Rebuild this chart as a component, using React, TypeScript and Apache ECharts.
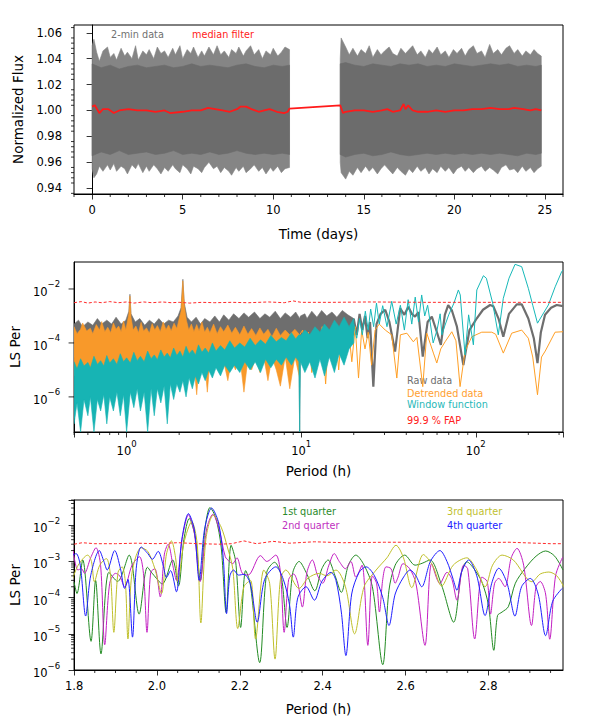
import React, { useEffect, useRef } from 'react';
import * as echarts from 'echarts';

// ================= Panel 1: light curve =================
// [time (d), lower, upper] envelope of the 2-min data (spikes)
const lcOuterSeg1: number[][] = [
  [0.0, 0.955, 1.05], [0.1, 0.948, 1.055], [0.25, 0.951, 1.045], [0.4, 0.957, 1.038], [0.6, 0.953, 1.046],
  [0.85, 0.958, 1.049], [1.0, 0.954, 1.041], [1.2, 0.959, 1.044], [1.35, 0.953, 1.039], [1.6, 0.957, 1.048],
  [1.8, 0.955, 1.042], [1.95, 0.951, 1.045], [2.2, 0.958, 1.04], [2.4, 0.955, 1.05], [2.55, 0.959, 1.039],
  [2.8, 0.952, 1.046], [3.0, 0.957, 1.043], [3.15, 0.953, 1.047], [3.4, 0.958, 1.04], [3.6, 0.955, 1.049],
  [3.8, 0.951, 1.044], [4.0, 0.956, 1.046], [4.2, 0.953, 1.041], [4.45, 0.958, 1.048], [4.6, 0.955, 1.043],
  [4.85, 0.952, 1.05], [5.0, 0.958, 1.04], [5.25, 0.955, 1.047], [5.45, 0.951, 1.044], [5.6, 0.957, 1.049],
  [5.85, 0.955, 1.041], [6.05, 0.952, 1.046], [6.2, 0.956, 1.042], [6.45, 0.96, 1.049], [6.7, 0.955, 1.043],
  [6.9, 0.957, 1.05], [7.1, 0.952, 1.043], [7.3, 0.956, 1.046], [7.55, 0.953, 1.041], [7.7, 0.95, 1.047],
  [7.95, 0.956, 1.044], [8.1, 0.953, 1.049], [8.35, 0.957, 1.042], [8.5, 0.952, 1.046], [8.75, 0.955, 1.05],
  [8.95, 0.958, 1.043], [9.2, 0.953, 1.047], [9.4, 0.956, 1.04], [9.6, 0.951, 1.046], [9.85, 0.956, 1.043],
  [10.0, 0.953, 1.048], [10.25, 0.957, 1.042], [10.45, 0.952, 1.045], [10.65, 0.955, 1.049], [10.9, 0.956, 1.047],
];
const lcOuterSeg2: number[][] = [
  [13.7, 0.96, 1.04], [13.75, 0.952, 1.056], [14.0, 0.947, 1.049], [14.2, 0.953, 1.043], [14.4, 0.95, 1.048],
  [14.65, 0.956, 1.042], [14.85, 0.952, 1.047], [15.1, 0.957, 1.044], [15.3, 0.953, 1.05], [15.5, 0.956, 1.041],
  [15.75, 0.951, 1.047], [15.95, 0.955, 1.043], [16.15, 0.958, 1.046], [16.4, 0.954, 1.049], [16.6, 0.951, 1.044],
  [16.85, 0.956, 1.042], [17.05, 0.953, 1.048], [17.3, 0.95, 1.044], [17.5, 0.955, 1.047], [17.7, 0.952, 1.05],
  [17.95, 0.957, 1.043], [18.15, 0.953, 1.046], [18.4, 0.956, 1.041], [18.6, 0.951, 1.047], [18.8, 0.955, 1.044],
  [19.05, 0.952, 1.049], [19.25, 0.957, 1.043], [19.5, 0.953, 1.046], [19.7, 0.956, 1.041], [19.95, 0.951, 1.047],
  [20.15, 0.955, 1.044], [20.4, 0.957, 1.048], [20.6, 0.953, 1.042], [20.8, 0.956, 1.047], [21.05, 0.952, 1.05],
  [21.25, 0.955, 1.044], [21.5, 0.957, 1.046], [21.7, 0.953, 1.041], [21.95, 0.956, 1.051], [22.15, 0.954, 1.044],
  [22.4, 0.951, 1.047], [22.6, 0.956, 1.043], [22.85, 0.958, 1.048], [23.05, 0.954, 1.05], [23.3, 0.955, 1.044],
  [23.5, 0.952, 1.047], [23.75, 0.957, 1.042], [23.95, 0.953, 1.046], [24.2, 0.956, 1.043], [24.4, 0.952, 1.047],
  [24.6, 0.955, 1.044], [24.8, 0.957, 1.042],
];
// dense core of the 2-min data
const lcCoreSeg1: number[][] = [
  [0.0, 0.965, 1.036], [0.5, 0.968, 1.033], [1.0, 0.966, 1.035], [1.5, 0.969, 1.032], [2.0, 0.966, 1.034],
  [2.5, 0.967, 1.035], [3.0, 0.968, 1.033], [3.5, 0.966, 1.034], [4.0, 0.967, 1.035], [4.5, 0.969, 1.033],
  [5.0, 0.966, 1.034], [5.5, 0.967, 1.036], [6.0, 0.966, 1.034], [6.5, 0.968, 1.035], [7.0, 0.966, 1.034],
  [7.5, 0.967, 1.033], [8.0, 0.969, 1.035], [8.5, 0.967, 1.036], [9.0, 0.966, 1.034], [9.5, 0.967, 1.033],
  [10.0, 0.966, 1.035], [10.5, 0.967, 1.034], [10.9, 0.966, 1.035],
];
const lcCoreSeg2: number[][] = [
  [13.7, 0.966, 1.036], [14.0, 0.964, 1.037], [14.5, 0.966, 1.035], [15.0, 0.967, 1.034], [15.5, 0.965, 1.036],
  [16.0, 0.966, 1.035], [16.5, 0.968, 1.034], [17.0, 0.966, 1.036], [17.5, 0.965, 1.035], [18.0, 0.966, 1.036],
  [18.5, 0.967, 1.034], [19.0, 0.966, 1.035], [19.5, 0.967, 1.034], [20.0, 0.966, 1.036], [20.5, 0.967, 1.035],
  [21.0, 0.966, 1.034], [21.5, 0.967, 1.035], [22.0, 0.966, 1.036], [22.5, 0.967, 1.035], [23.0, 0.966, 1.036],
  [23.5, 0.965, 1.034], [24.0, 0.967, 1.035], [24.5, 0.966, 1.034], [24.8, 0.967, 1.035],
];
const medianFilter: number[][] = [
  [0.0, 1.003], [0.15, 1.004], [0.4, 0.998], [0.6, 1.001], [0.9, 1.001], [1.2, 0.998], [1.5, 1.0], [2.0, 1.001],
  [2.5, 1.0], [3.0, 1.0], [3.5, 0.999], [4.0, 1.0], [4.3, 0.998], [5.0, 0.999], [5.5, 1.0], [6.0, 1.0],
  [6.4, 1.002], [6.8, 1.001], [7.2, 1.0], [7.6, 0.999], [8.0, 1.001], [8.2, 1.003], [8.5, 1.003], [8.8, 1.001],
  [9.2, 0.999], [9.5, 1.0], [9.8, 1.001], [10.2, 0.999], [10.6, 0.998], [10.8, 0.999], [10.9, 1.0015],
  [13.7, 1.004], [13.85, 0.998], [14.0, 0.999], [14.5, 1.0], [15.0, 1.0], [15.5, 0.999], [16.0, 1.0],
  [16.3, 1.001], [16.6, 0.999], [17.0, 1.0], [17.2, 1.005], [17.3, 1.001], [17.45, 1.004], [17.7, 1.0],
  [18.0, 0.999], [18.5, 0.999], [19.0, 1.0], [19.5, 0.999], [20.0, 1.0], [20.5, 1.0], [21.0, 1.001],
  [21.5, 1.001], [22.0, 1.002], [22.5, 1.001], [23.0, 1.001], [23.3, 1.002], [23.8, 1.001], [24.2, 1.0],
  [24.5, 1.001], [24.8, 1.0],
];
const topXTicks = [0, 5, 10, 15, 20, 25];
const topYTicks = [0.94, 0.96, 0.98, 1.0, 1.02, 1.04, 1.06];

// ================= Panel 2: periodograms vs period =================
// dense parts: [period (h), lower, upper]
const rawBand: number[][] = [
  [0.5, 3e-5, 5e-4], [0.53, 3e-5, 7e-4], [0.56, 3e-5, 4e-4], [0.6, 3e-5, 6e-4], [0.64, 3e-5, 4.5e-4],
  [0.68, 3e-5, 8e-4], [0.72, 3e-5, 5e-4], [0.77, 3e-5, 7e-4], [0.82, 3e-5, 5e-4], [0.87, 3e-5, 9e-4],
  [0.93, 3e-5, 5e-4], [0.99, 3e-5, 7e-4], [1.03, 3e-5, 1.5e-3], [1.045, 3e-5, 6.4e-3], [1.06, 3e-5, 1.2e-3],
  [1.12, 3e-5, 6e-4], [1.19, 3e-5, 8e-4], [1.27, 3e-5, 4.5e-4], [1.35, 3e-5, 7e-4], [1.44, 3e-5, 5e-4],
  [1.53, 3e-5, 8e-4], [1.63, 3e-5, 5e-4], [1.74, 3e-5, 7e-4], [1.85, 3e-5, 6e-4], [1.97, 3e-5, 1e-3],
  [2.05, 3e-5, 2e-3], [2.1, 3e-5, 2.3e-2], [2.14, 3e-5, 3e-3], [2.22, 3e-5, 9e-4], [2.35, 3e-5, 6e-4],
  [2.5, 3e-5, 9e-4], [2.65, 3e-5, 5e-4], [2.8, 3e-5, 8e-4], [3.0, 3e-5, 6e-4], [3.2, 3e-5, 1e-3],
  [3.4, 4e-5, 6e-4], [3.6, 4e-5, 1.1e-3], [3.85, 4e-5, 7e-4], [4.1, 4e-5, 1.2e-3], [4.4, 5e-5, 8e-4],
  [4.7, 5e-5, 1.3e-3], [5.0, 5e-5, 9e-4], [5.4, 6e-5, 1.4e-3], [5.8, 6e-5, 8e-4], [6.2, 6e-5, 1.2e-3],
  [6.6, 7e-5, 9e-4], [7.1, 7e-5, 1.5e-3], [7.6, 8e-5, 8e-4], [8.1, 8e-5, 1.3e-3], [8.7, 9e-5, 9e-4],
  [9.3, 9e-5, 1.4e-3], [9.7, 9e-5, 9e-4], [9.8, 5e-8, 8e-4], [9.9, 1e-4, 1e-3], [10.5, 1e-4, 1.2e-3],
  [10.8, 1e-4, 8e-4], [11.5, 1.2e-4, 1.5e-3], [12.3, 1e-4, 9e-4], [13.1, 1.3e-4, 1.6e-3], [14, 1.1e-4, 1e-3],
  [15, 1.4e-4, 1.4e-3], [16, 1.2e-4, 9e-4], [17.2, 1.5e-4, 1.6e-3], [18.5, 1.2e-4, 1.1e-3], [20, 2e-4, 8e-4],
];
const detBand: number[][] = [
  [0.5, 6e-6, 4e-4], [0.52, 8e-6, 2.2e-4], [0.545, 3e-6, 3.2e-4], [0.56, 9e-6, 5.5e-4], [0.59, 6e-6, 2.8e-4],
  [0.62, 1e-5, 3.5e-4], [0.64, 5e-6, 2.2e-4], [0.67, 1e-5, 4.8e-4], [0.7, 7e-6, 3e-4], [0.72, 1.2e-5, 6.2e-4],
  [0.75, 6e-6, 2.6e-4], [0.78, 1e-5, 3.8e-4], [0.81, 8e-6, 2.4e-4], [0.84, 1e-5, 5.5e-4], [0.87, 8e-6, 3.2e-4],
  [0.9, 1.2e-5, 4.2e-4], [0.93, 5e-6, 2.6e-4], [0.96, 1.3e-5, 6.5e-4], [0.99, 8e-6, 3e-4], [1.03, 8e-6, 1.2e-3],
  [1.045, 1e-5, 5.5e-3], [1.06, 8e-6, 9e-4], [1.09, 1.2e-5, 3e-4], [1.13, 5e-6, 4.2e-4], [1.17, 1.3e-5, 2.4e-4],
  [1.21, 8e-6, 5.8e-4], [1.25, 1.5e-5, 2.8e-4], [1.3, 9e-6, 3.6e-4], [1.35, 1.4e-5, 2.3e-4], [1.4, 4e-6, 5.2e-4],
  [1.45, 1.5e-5, 3e-4], [1.5, 1e-5, 4.4e-4], [1.56, 6e-6, 2.6e-4], [1.62, 1.2e-5, 6e-4], [1.68, 8e-6, 3.1e-4],
  [1.74, 4e-6, 4.6e-4], [1.8, 1.5e-5, 2.8e-4], [1.87, 1e-5, 5.4e-4], [1.94, 1.2e-5, 3.4e-4], [1.99, 1e-5, 7e-4],
  [2.05, 1.2e-5, 1.5e-3], [2.1, 1.5e-5, 2e-2], [2.14, 1e-5, 2.5e-3], [2.2, 6e-6, 7e-4], [2.27, 1.5e-5, 3e-4],
  [2.35, 5e-6, 5e-4], [2.43, 1.6e-5, 2.6e-4], [2.52, 1.2e-6, 4.8e-4], [2.6, 1.5e-5, 2.8e-4], [2.7, 1e-5, 6e-4],
  [2.8, 2e-5, 2.5e-4], [2.9, 1.5e-6, 3.8e-4], [3.0, 2e-5, 2.4e-4], [3.15, 1e-5, 5e-4], [3.3, 2.5e-5, 2.2e-4],
  [3.45, 8e-6, 4e-4], [3.6, 2e-5, 2.6e-4], [3.8, 4e-6, 4.6e-4], [4.0, 2.5e-5, 2.3e-4], [4.2, 1e-5, 3.8e-4],
  [4.45, 3e-5, 2e-4], [4.7, 1.5e-6, 4.2e-4], [4.95, 2.5e-5, 2.1e-4], [5.2, 1e-5, 3.4e-4], [5.5, 3e-5, 1.9e-4],
  [5.8, 8e-6, 3.6e-4], [6.1, 3e-5, 2.1e-4], [6.45, 4e-6, 3.2e-4], [6.8, 3e-5, 1.7e-4], [7.2, 1e-5, 3.5e-4],
  [7.6, 2.5e-6, 1.9e-4], [8.1, 3e-5, 3e-4], [8.6, 2e-6, 2e-4], [9.2, 3e-5, 3.2e-4], [9.8, 5e-6, 2e-4],
];
const winBand: number[][] = [
  [0.5, 1e-7, 2e-5], [0.52, 6e-7, 1.1e-5], [0.545, 5e-8, 2.6e-5], [0.57, 8e-7, 1.4e-5], [0.6, 2e-7, 1.9e-5],
  [0.62, 1e-6, 1.2e-5], [0.65, 5e-8, 3.2e-5], [0.68, 8e-7, 1.6e-5], [0.71, 3e-7, 2.2e-5], [0.74, 1.2e-6, 1.4e-5],
  [0.77, 1e-7, 3.4e-5], [0.8, 1e-6, 1.8e-5], [0.84, 3e-7, 2.6e-5], [0.88, 1.5e-6, 1.6e-5], [0.92, 2e-7, 4e-5],
  [0.96, 1.2e-6, 2e-5], [1.0, 5e-8, 2.8e-5], [1.05, 1.5e-6, 1.8e-5], [1.1, 4e-7, 4.5e-5], [1.15, 2e-6, 2.2e-5],
  [1.2, 3e-7, 3.2e-5], [1.26, 1.5e-6, 2e-5], [1.32, 5e-8, 5e-5], [1.38, 2e-6, 2.6e-5], [1.44, 2e-7, 3.6e-5],
  [1.5, 2e-6, 2.4e-5], [1.57, 6e-7, 5.5e-5], [1.64, 2.5e-6, 3e-5], [1.71, 1e-7, 4.2e-5], [1.78, 3e-6, 2.8e-5],
  [1.86, 8e-7, 6.5e-5], [1.94, 3e-6, 3.4e-5], [2.02, 1.5e-6, 5e-5], [2.1, 4e-6, 3e-5], [2.19, 1e-6, 7.5e-5],
  [2.28, 5e-6, 4e-5], [2.38, 2e-6, 5.5e-5], [2.48, 6e-6, 3.6e-5], [2.58, 3e-6, 8.5e-5], [2.7, 8e-6, 4.5e-5],
  [2.82, 4e-6, 6.5e-5], [2.95, 1e-5, 4.2e-5], [3.1, 5e-6, 1e-4], [3.25, 1.2e-5, 5e-5], [3.45, 6e-6, 8e-5],
  [3.65, 1.5e-5, 5.5e-5], [3.9, 8e-6, 1.2e-4], [4.15, 1.5e-5, 6.5e-5], [4.45, 8e-6, 1e-4], [4.75, 2e-5, 7e-5],
  [5.1, 1e-5, 1.5e-4], [5.45, 2e-5, 8e-5], [5.85, 8e-6, 1.3e-4], [6.25, 2.5e-5, 9e-5], [6.7, 1.2e-5, 1.9e-4],
  [7.2, 2.5e-5, 1.1e-4], [7.7, 1.5e-5, 1.6e-4], [8.2, 3e-5, 1.2e-4], [8.8, 1.5e-5, 2.4e-4], [9.3, 3e-5, 1.4e-4],
  [9.7, 2e-5, 2e-4], [9.8, 5e-8, 2e-4], [9.9, 2e-5, 1.8e-4], [10.5, 8e-6, 3e-4], [11.2, 2e-5, 2e-4],
  [12, 5e-6, 4e-4], [12.8, 2.5e-5, 2.5e-4], [13.6, 6e-6, 5e-4], [14.5, 3e-5, 3e-4], [15.5, 8e-6, 7e-4],
  [16.5, 4e-5, 4e-4], [17.6, 1.5e-5, 9e-4], [18.8, 6e-5, 4e-4], [20, 1e-4, 8e-4],
];
// resolved parts: [period (h), power]
const rawLine: number[][] = [
  [20, 8e-4], [20.8, 2e-4], [21.6, 1.2e-3], [22.4, 3e-4], [23.2, 1e-3], [24, 1.5e-4], [24.8, 6e-4], [25.9, 2.4e-6],
  [27, 5e-4], [28.5, 1.2e-3], [30.3, 1.7e-3], [32, 6e-4], [34.5, 4.8e-5], [36.9, 1.9e-3], [39, 1.1e-3],
  [41.1, 2.2e-3], [43, 1.2e-3], [44.9, 9.4e-4], [46.9, 1.4e-3], [49.7, 3.1e-5], [53, 6e-4], [56, 9.4e-4],
  [59.8, 2.6e-4], [63.1, 8.5e-5], [66.5, 1.1e-3], [69.5, 2.5e-3], [73, 1.6e-3], [78, 4e-4], [84.9, 1.5e-5],
  [92, 3e-4], [101.4, 8.2e-4], [110, 1.7e-3], [120.8, 2.55e-3], [126, 2.3e-3], [135, 8e-4], [143.8, 1.7e-4],
  [155, 1.2e-3], [171.7, 2.7e-3], [183.3, 2.7e-3], [200, 8e-4], [215, 1.5e-4], [225.7, 1.8e-5], [236, 2.5e-4],
  [249.3, 1.1e-3], [270, 2e-3], [291, 2.55e-3], [316, 2.3e-3],
];
const detLine: number[][] = [
  [9.8, 2e-4], [10.2, 3e-4], [10.6, 2e-5], [11, 2.5e-4], [11.5, 8e-6], [12, 3e-4], [12.6, 5e-5], [13.2, 4e-4],
  [13.8, 3e-6], [14.4, 2.5e-4], [15, 6e-5], [15.7, 3.5e-4], [16.4, 1e-5], [17.1, 4e-4], [17.9, 8e-5],
  [18.7, 3e-4], [19.5, 2e-5], [20.4, 4e-4], [21.3, 5e-6], [22.2, 3e-4], [23.2, 6e-5], [24.2, 2.5e-4],
  [25.3, 1.5e-5], [26.5, 3e-4], [28, 5e-4], [30.3, 3e-4], [33, 2e-4], [35.3, 5e-6], [37, 2e-4], [40.3, 2.3e-4],
  [43.9, 1.1e-4], [46, 1.6e-4], [49.7, 2.4e-6], [52.4, 2.3e-4], [57.2, 4.2e-5], [59.8, 1.8e-5], [63, 6e-5],
  [66.7, 1.1e-4], [72.9, 2.6e-4], [77, 1.2e-4], [81.3, 2.4e-6], [86.8, 5e-5], [94.9, 1.7e-4], [108.2, 2.5e-4],
  [123.5, 2.5e-4], [130, 2.1e-4], [143.8, 4.2e-5], [160.7, 2.3e-4], [183.3, 3e-4], [200, 1.5e-4], [212, 3e-5],
  [225.7, 1.2e-6], [238, 3e-5], [250, 5e-5], [284.6, 2.5e-4], [316, 2.6e-4],
];
const winLine: number[][] = [
  [20, 5e-4], [20.8, 1.5e-4], [21.6, 8e-4], [22.4, 2e-4], [23.3, 1.5e-3], [24.2, 3e-4], [25, 1.8e-3],
  [26, 4e-4], [27, 3e-3], [28, 5e-4], [29.3, 2.4e-3], [31, 4e-4], [33, 3.5e-3], [35, 5e-4], [37, 2.5e-3],
  [39, 3e-4], [41, 4e-3], [43, 5e-4], [45, 5e-3], [47, 6e-4], [49, 6e-3], [51, 1e-3], [53, 2.5e-3], [55, 5e-4],
  [57, 1e-4], [60, 3e-4], [62.5, 1.2e-3], [64, 2e-4], [66.7, 4.6e-4], [70, 1.1e-3], [75, 3e-3], [79.5, 9.2e-3],
  [81.5, 6e-3], [86.8, 3.6e-5], [91, 1.1e-3], [96.9, 8.5e-5], [101.4, 9.2e-3], [110.6, 0.031], [115, 0.025],
  [125, 3e-3], [134.6, 2e-4], [143.8, 4.5e-3], [155, 0.025], [167.9, 0.082], [183.3, 0.067], [200, 0.0106],
  [212, 2.5e-3], [225.7, 5.4e-4], [260.5, 2.55e-3], [285, 0.012], [310.7, 0.044], [316, 0.05],
];
const fapMid: number[][] = [
  [0.5, 3.1e-3], [0.55, 3.4e-3], [0.6, 3e-3], [0.66, 3.3e-3], [0.72, 3.1e-3], [0.8, 3.4e-3], [0.9, 3.1e-3],
  [1.0, 3.3e-3], [1.1, 3e-3], [1.25, 3.3e-3], [1.4, 3.1e-3], [1.6, 3.3e-3], [1.8, 3.1e-3], [2.0, 3.2e-3],
  [2.3, 3e-3], [2.7, 3.2e-3], [3.2, 3.1e-3], [4, 3.2e-3], [5, 3.1e-3], [6.5, 3.3e-3], [8, 3.1e-3], [9, 3.6e-3],
  [10, 3.2e-3], [15, 3.2e-3], [25, 3.3e-3], [50, 3.2e-3], [100, 3.2e-3], [316, 3.2e-3],
];
// tick values with their exponent text (shown as 10^exp)
const midXTicks: [number, string][] = [[1, '0'], [10, '1'], [100, '2']];
const midYTicks: [number, string][] = [[1e-6, '−6'], [1e-4, '−4'], [1e-2, '−2']];

// ================= Panel 3: quarters around the 2.1 h peak =================
const q1: number[][] = [
  [1.8, 2.7e-4], [1.807, 1.3e-4], [1.821, 1.1e-3], [1.841, 6.2e-6], [1.852, 3e-4], [1.865, 2.8e-6], [1.884, 5e-4],
  [1.905, 2.8e-4], [1.933, 1.5e-3], [1.957, 3.5e-5], [1.977, 6.9e-4], [1.99, 4.5e-4], [2.013, 2.4e-4],
  [2.038, 1.1e-3], [2.052, 2.1e-4], [2.065, 4e-3], [2.078, 1.55e-2], [2.092, 5e-3], [2.105, 3e-4], [2.116, 7.9e-3],
  [2.128, 3.1e-2], [2.142, 1.6e-2], [2.155, 2.5e-3], [2.167, 3.9e-5], [2.179, 2.8e-3], [2.19, 1e-3], [2.202, 1.5e-5],
  [2.214, 5.6e-4], [2.225, 2.5e-4], [2.248, 1.6e-6], [2.265, 5e-4], [2.284, 9.5e-4], [2.3, 4e-4], [2.314, 1.5e-5],
  [2.328, 5e-4], [2.343, 1e-3], [2.36, 5e-4], [2.381, 1.55e-4], [2.398, 6.3e-4], [2.413, 1.1e-3], [2.43, 4e-4],
  [2.445, 1.4e-4], [2.462, 7.9e-4], [2.48, 1.5e-3], [2.5, 7.9e-4], [2.52, 2e-4], [2.545, 1.4e-6], [2.56, 1.6e-4],
  [2.575, 7.9e-4], [2.598, 1.5e-3], [2.623, 7.9e-4], [2.64, 8.9e-4], [2.659, 1.1e-3], [2.687, 2.2e-4],
  [2.716, 2.1e-5], [2.735, 5e-4], [2.748, 9.8e-4], [2.765, 6.3e-4], [2.784, 2.75e-4], [2.8, 6.3e-5],
  [2.813, 3.5e-6], [2.822, 3.2e-5], [2.833, 4e-5], [2.848, 5.6e-5], [2.865, 2.5e-4], [2.889, 6.5e-4],
  [2.915, 1.4e-3], [2.938, 1.95e-3], [2.96, 1.4e-3], [2.98, 5.8e-4],
];
const q2: number[][] = [
  [1.797, 2.3e-3], [1.809, 5.8e-4], [1.818, 6.3e-4], [1.825, 4.7e-4], [1.84, 1.26e-3], [1.853, 2.4e-3],
  [1.864, 7.9e-4], [1.874, 5e-6], [1.886, 2.5e-4], [1.9, 4.7e-4], [1.91, 4e-4], [1.922, 2e-4], [1.94, 7.9e-4],
  [1.958, 1.35e-3], [1.968, 4e-4], [1.976, 1.1e-5], [1.985, 5e-4], [1.995, 6.3e-4], [2.008, 1.05e-4],
  [2.018, 1.6e-3], [2.027, 3e-3], [2.04, 6.3e-4], [2.047, 3e-4], [2.062, 5e-3], [2.076, 1.95e-2], [2.09, 6.3e-3],
  [2.104, 2.75e-4], [2.12, 7.9e-3], [2.135, 2e-2], [2.15, 7.9e-3], [2.165, 1.35e-3], [2.175, 1e-3], [2.183, 8.7e-4],
  [2.193, 1.26e-3], [2.206, 4.7e-4], [2.22, 4.2e-4], [2.25, 1.45e-3], [2.265, 1e-3], [2.287, 1.5e-3], [2.298, 5e-4],
  [2.307, 1.1e-5], [2.318, 3.2e-4], [2.33, 4.5e-4], [2.34, 2.5e-4], [2.351, 5.5e-5], [2.362, 5e-4], [2.375, 1.1e-3],
  [2.388, 4e-4], [2.4, 2.5e-4], [2.415, 7.9e-4], [2.428, 1.65e-3], [2.44, 1e-3], [2.455, 6.3e-4], [2.468, 1e-3],
  [2.48, 3.7e-4], [2.495, 7.9e-4], [2.509, 4.8e-6], [2.52, 4e-4], [2.53, 2.5e-4], [2.537, 4e-5], [2.545, 3.2e-4],
  [2.553, 7.1e-4], [2.565, 6.3e-4], [2.575, 2.5e-4], [2.582, 3.7e-4], [2.594, 8.7e-4], [2.61, 6.3e-4],
  [2.625, 2.5e-4], [2.647, 4.8e-6], [2.663, 8.7e-4], [2.683, 2.45e-4], [2.7, 5e-4], [2.712, 3.2e-4],
  [2.724, 8.5e-5], [2.74, 7.9e-4], [2.75, 6.3e-4], [2.767, 7.2e-6], [2.784, 3.7e-4], [2.797, 2.8e-4],
  [2.805, 3.5e-5], [2.815, 2.5e-4], [2.825, 3.4e-4], [2.84, 2e-4], [2.855, 1.26e-3], [2.869, 2.3e-3],
  [2.885, 7.9e-4], [2.904, 1.7e-5], [2.915, 2e-4], [2.925, 2.8e-4], [2.938, 1.26e-4], [2.948, 7.1e-6],
  [2.962, 4e-4], [2.979, 1.3e-3],
];
const q3: number[][] = [
  [1.797, 3.4e-4], [1.81, 7.9e-4], [1.833, 1.5e-3], [1.842, 1e-3], [1.849, 2.75e-4], [1.862, 7.9e-4],
  [1.878, 1.2e-3], [1.888, 4e-4], [1.896, 1.1e-5], [1.906, 5e-4], [1.916, 7.1e-4], [1.924, 2.5e-4], [1.93, 7.2e-6],
  [1.94, 5e-4], [1.962, 2.4e-3], [1.978, 1.9e-3], [1.995, 6.3e-4], [2.011, 1.3e-4], [2.023, 1.6e-3],
  [2.035, 3.7e-3], [2.045, 1.26e-3], [2.051, 2.75e-4], [2.065, 3.2e-3], [2.084, 1.26e-2], [2.097, 3.2e-3],
  [2.106, 2e-5], [2.118, 4e-3], [2.136, 1.9e-2], [2.155, 8.9e-3], [2.17, 2.5e-3], [2.183, 6.3e-4], [2.195, 1.4e-5],
  [2.21, 2e-4], [2.226, 3e-4], [2.238, 7.2e-6], [2.258, 5.8e-4], [2.272, 2.5e-4], [2.285, 2e-6], [2.298, 3.2e-4],
  [2.311, 5.8e-4], [2.343, 1.8e-4], [2.365, 3.5e-4], [2.392, 4.7e-4], [2.41, 4e-4], [2.432, 5.8e-4], [2.455, 2e-4],
  [2.477, 1e-5], [2.5, 2e-4], [2.529, 5.8e-4], [2.555, 1.26e-3], [2.577, 2.8e-3], [2.595, 1.26e-3], [2.615, 1.9e-4],
  [2.643, 1.55e-3], [2.665, 7.9e-4], [2.687, 2.1e-4], [2.715, 7.9e-4], [2.748, 1.26e-3], [2.77, 6.3e-4],
  [2.792, 2e-4], [2.81, 7.9e-4], [2.833, 1.5e-3], [2.86, 1.1e-3], [2.905, 2.75e-4], [2.925, 4.5e-4],
  [2.946, 5.1e-4], [2.965, 4e-4], [2.982, 2e-4],
];
const q4: number[][] = [
  [1.797, 1.5e-3], [1.805, 1.65e-3], [1.815, 7.9e-4], [1.828, 3.1e-5], [1.84, 4e-4], [1.861, 2e-3], [1.872, 1e-3],
  [1.88, 5.8e-4], [1.898, 2e-3], [1.912, 6.3e-4], [1.922, 1.8e-4], [1.93, 3.2e-4], [1.941, 8.1e-6], [1.95, 6.3e-4],
  [1.962, 2.5e-3], [1.978, 1.65e-3], [1.989, 1.15e-3], [2.003, 1.9e-3], [2.015, 7.9e-4], [2.023, 3.6e-4],
  [2.033, 5.6e-4], [2.047, 1.45e-4], [2.06, 4e-3], [2.076, 2.1e-2], [2.09, 7.9e-3], [2.102, 3e-4], [2.115, 7.9e-3],
  [2.132, 3e-2], [2.148, 1.26e-2], [2.16, 1.26e-3], [2.168, 3.6e-5], [2.176, 4e-4], [2.185, 5.8e-4],
  [2.197, 4.2e-4], [2.21, 4.4e-4], [2.225, 2.5e-4], [2.242, 2.1e-5], [2.26, 3.2e-4], [2.287, 7.1e-4],
  [2.305, 3.2e-4], [2.32, 6.3e-5], [2.329, 8.1e-6], [2.34, 1e-4], [2.36, 2e-4], [2.38, 8.5e-5], [2.398, 2.8e-4],
  [2.42, 5e-4], [2.432, 3e-4], [2.445, 4e-5], [2.456, 2.5e-6], [2.47, 1.26e-4], [2.488, 5e-4], [2.505, 7.1e-4],
  [2.525, 4e-4], [2.545, 1e-4], [2.56, 1.7e-5], [2.575, 1.26e-4], [2.594, 3.5e-4], [2.611, 5.8e-4],
  [2.625, 4e-4], [2.639, 2e-4], [2.66, 1e-3], [2.683, 2e-3], [2.7, 1e-3], [2.715, 3.2e-4], [2.724, 1.6e-4],
  [2.735, 5e-4], [2.752, 1.1e-3], [2.772, 4e-4], [2.792, 3.2e-5], [2.808, 2.5e-4], [2.825, 6.5e-4],
  [2.845, 2.5e-4], [2.864, 3.1e-5], [2.88, 2e-4], [2.901, 3.4e-4], [2.92, 1.26e-4], [2.938, 8.9e-6],
  [2.955, 7.9e-5], [2.978, 1.8e-4],
];
const fapBot: number[][] = [
  [1.8, 3e-3], [1.82, 3.3e-3], [1.85, 3.1e-3], [1.9, 3.1e-3], [1.95, 3.2e-3], [2.0, 3.1e-3], [2.05, 3.3e-3],
  [2.1, 3.1e-3], [2.15, 3e-3], [2.18, 3.1e-3], [2.21, 3.7e-3], [2.24, 3.1e-3], [2.28, 3.6e-3], [2.32, 3.2e-3],
  [2.38, 3.5e-3], [2.45, 3.3e-3], [2.55, 3.4e-3], [2.65, 3.4e-3], [2.75, 3.3e-3], [2.85, 3.4e-3], [2.95, 3.1e-3],
  [2.98, 3.1e-3],
];
const botXTicks = [1.8, 2.0, 2.2, 2.4, 2.6, 2.8];
const botYTicks: [number, string][] = [[1e-6, '−6'], [1e-5, '−5'], [1e-4, '−4'], [1e-3, '−3'], [1e-2, '−2']];

const FONT = 'DejaVu Sans';

function logMatch(v: number, ticks: [number, string][]) {
  const t = ticks.find((tt) => Math.abs(Math.log10(v) - Math.log10(tt[0])) < 1e-6);
  return t ? `{b|10}{s|${t[1]}}` : '';
}
function linMatch(v: number, ticks: number[], digits: number) {
  const t = ticks.find((tt) => Math.abs(tt - v) < 1e-6);
  return t === undefined ? '' : t.toFixed(digits);
}

function bandSeries(band: number[][], color: string, idx: number, z: number) {
  return {
    type: 'custom', xAxisIndex: idx, yAxisIndex: idx, z, silent: true, clip: true,
    data: [[band[0][0], band[0][2]]],
    renderItem: (_p: any, api: any) => {
      const upper = band.map((d) => api.coord([d[0], d[2]]));
      const lower = band.slice().reverse().map((d) => api.coord([d[0], d[1]]));
      return { type: 'polygon', shape: { points: upper.concat(lower) }, style: { fill: color, stroke: color, lineWidth: 0.6 } };
    },
  };
}

function lineSeries(data: number[][], color: string, idx: number, width: number, z: number, extra: any = {}) {
  return {
    type: 'line', xAxisIndex: idx, yAxisIndex: idx, data, showSymbol: false, symbol: 'none', z, silent: true,
    lineStyle: { color, width, ...(extra.lineStyle || {}) }, smooth: extra.smooth || false,
  };
}

function tickSeries(values: number[], dir: 'x' | 'y', ref: number, idx: number, len: number) {
  return {
    type: 'custom', xAxisIndex: idx, yAxisIndex: idx, silent: true, clip: false, z: 20,
    data: values.map((v) => (dir === 'x' ? [v, ref] : [ref, v])),
    renderItem: (params: any, api: any) => {
      const cs = params.coordSys;
      const p = api.coord([api.value(0), api.value(1)]);
      if (dir === 'x') {
        if (p[0] < cs.x - 0.5 || p[0] > cs.x + cs.width + 0.5) return null;
        const y0 = cs.y + cs.height;
        return { type: 'line', shape: { x1: p[0], y1: y0, x2: p[0], y2: y0 + len }, style: { stroke: '#000', lineWidth: 0.8 } };
      }
      if (p[1] < cs.y - 0.5 || p[1] > cs.y + cs.height + 0.5) return null;
      return { type: 'line', shape: { x1: cs.x - len, y1: p[1], x2: cs.x, y2: p[1] }, style: { stroke: '#000', lineWidth: 0.8 } };
    },
  };
}

export default function App() {
  const ref = useRef<HTMLDivElement>(null);
  useEffect(() => {
    document.body.style.margin = '0';
    const chart = echarts.init(ref.current!, null, { renderer: 'svg' });

    const topXMinor: number[] = [];
    for (let i = -1; i <= 26; i++) if (i % 5 !== 0) topXMinor.push(i);
    const topYMinor: number[] = [];
    for (let k = 234; k <= 266; k++) if (k % 5 !== 0) topYMinor.push(+(k * 0.004).toFixed(3));
    const midXMinor: number[] = [];
    for (let e = -1; e <= 2; e++) for (let m = 2; m <= 9; m++) { const v = m * Math.pow(10, e); if (v >= 0.5 && v <= 316) midXMinor.push(v); }
    const botYMinor: number[] = [];
    for (let e = -6; e <= -2; e++) for (let m = 2; m <= 9; m++) { const v = m * Math.pow(10, e); if (v <= 0.05) botYMinor.push(v); }
    const botXMinor: number[] = [];
    for (let k = 36; k <= 59; k++) if (k % 4 !== 0) botXMinor.push(+(k * 0.05).toFixed(2));

    const axisCommon = {
      axisLine: { show: true, lineStyle: { color: '#000', width: 1 } },
      splitLine: { show: false },
      nameLocation: 'middle',
      nameTextStyle: { fontSize: 13.5, color: '#000', fontFamily: FONT },
    };
    const lab = (extra: any) => ({ color: '#000', fontSize: 11.5, fontFamily: FONT, ...extra });
    const supRich = {
      b: { fontSize: 11.5, fontFamily: FONT, color: '#000', lineHeight: 18, verticalAlign: 'bottom' },
      s: { fontSize: 8.5, fontFamily: FONT, color: '#000', lineHeight: 12, verticalAlign: 'top' },
    };
    const tick = { show: true, length: 5.5, lineStyle: { color: '#000', width: 0.8 } };

    const option: any = {
      animation: false,
      grid: [
        { left: 74, top: 25, width: 489, height: 169, show: true, borderColor: '#000', borderWidth: 1, backgroundColor: 'transparent' },
        { left: 74, top: 262, width: 489, height: 170, show: true, borderColor: '#000', borderWidth: 1, backgroundColor: 'transparent' },
        { left: 74, top: 500, width: 489, height: 170, show: true, borderColor: '#000', borderWidth: 1, backgroundColor: 'transparent' },
      ],
      xAxis: [
        { ...axisCommon, gridIndex: 0, type: 'value', min: -1, max: 26, splitNumber: 5, name: 'Time (days)', nameGap: 33,
          axisTick: { ...tick, customValues: topXTicks }, axisLabel: lab({ margin: 10, customValues: topXTicks, formatter: (v: number) => linMatch(v, topXTicks, 0) }) },
        { ...axisCommon, gridIndex: 1, type: 'log', logBase: 10, min: 0.5, max: 316, splitNumber: 3, name: 'Period (h)', nameGap: 32,
          axisTick: tick, axisLabel: lab({ margin: 7, rich: supRich, formatter: (v: number) => logMatch(v, midXTicks) }) },
        { ...axisCommon, gridIndex: 2, type: 'value', min: 1.8, max: 2.98, interval: 0.2, name: 'Period (h)', nameGap: 32,
          axisTick: { ...tick, customValues: botXTicks }, axisLabel: lab({ margin: 10, customValues: botXTicks, formatter: (v: number) => linMatch(v, botXTicks, 1) }) },
      ],
      yAxis: [
        { ...axisCommon, gridIndex: 0, type: 'value', min: 0.9355, max: 1.066, splitNumber: 6, name: 'Normalized Flux', nameGap: 43,
          axisTick: { ...tick, customValues: topYTicks }, axisLabel: lab({ margin: 12, customValues: topYTicks, formatter: (v: number) => linMatch(v, topYTicks, 2) }) },
        { ...axisCommon, gridIndex: 1, type: 'log', logBase: 10, min: 5e-8, max: 0.1, splitNumber: 5, name: 'LS Per', nameGap: 50,
          axisTick: { show: false }, axisLabel: lab({ margin: 14, rich: supRich, formatter: (v: number) => logMatch(v, midYTicks) }) },
        { ...axisCommon, gridIndex: 2, type: 'log', logBase: 10, min: 1e-6, max: 0.05, splitNumber: 5, name: 'LS Per', nameGap: 50,
          axisTick: tick, axisLabel: lab({ margin: 14, rich: supRich, formatter: (v: number) => logMatch(v, botYTicks) }) },
      ],
      graphic: [
        { type: 'text', x: 111, y: 34, style: { text: '2-min data', fill: '#707070', fontSize: 9.7, fontFamily: FONT, verticalAlign: 'middle' } },
        { type: 'text', x: 192, y: 34, style: { text: 'median filter', fill: '#ff2020', fontSize: 9.7, fontFamily: FONT, verticalAlign: 'middle' } },
        { type: 'text', x: 407, y: 380, style: { text: 'Raw data', fill: '#6e6e6e', fontSize: 9.7, fontFamily: FONT, verticalAlign: 'middle' } },
        { type: 'text', x: 407, y: 393, style: { text: 'Detrended data', fill: '#ffa030', fontSize: 9.7, fontFamily: FONT, verticalAlign: 'middle' } },
        { type: 'text', x: 407, y: 404, style: { text: 'Window function', fill: '#1fb8b8', fontSize: 9.7, fontFamily: FONT, verticalAlign: 'middle' } },
        { type: 'text', x: 407, y: 420, style: { text: '99.9 % FAP', fill: '#ff2020', fontSize: 9.7, fontFamily: FONT, verticalAlign: 'middle' } },
        { type: 'text', x: 282, y: 511, style: { text: '1st quarter', fill: '#2a8a2a', fontSize: 9.7, fontFamily: FONT, verticalAlign: 'middle' } },
        { type: 'text', x: 282, y: 525, style: { text: '2nd quarter', fill: '#c030c0', fontSize: 9.7, fontFamily: FONT, verticalAlign: 'middle' } },
        { type: 'text', x: 447, y: 511, style: { text: '3rd quarter', fill: '#bfbf30', fontSize: 9.7, fontFamily: FONT, verticalAlign: 'middle' } },
        { type: 'text', x: 447, y: 525, style: { text: '4th quarter', fill: '#2020ff', fontSize: 9.7, fontFamily: FONT, verticalAlign: 'middle' } },
      ],
      series: [
        // panel 1
        bandSeries(lcOuterSeg1, '#858585', 0, 2),
        bandSeries(lcOuterSeg2, '#858585', 0, 2),
        bandSeries(lcCoreSeg1, '#6c6c6c', 0, 3),
        bandSeries(lcCoreSeg2, '#6c6c6c', 0, 3),
        lineSeries(medianFilter, '#ff1a1a', 0, 1.8, 5),
        tickSeries(topXMinor, 'x', 1.0, 0, 3),
        tickSeries(topYMinor, 'y', 5, 0, 3),
        // panel 2
        bandSeries(rawBand, '#6e6e6e', 1, 2),
        lineSeries(rawLine, '#6e6e6e', 1, 2.2, 2),
        bandSeries(detBand, '#f8992a', 1, 3),
        lineSeries(detLine, '#ff9f25', 1, 1, 3),
        bandSeries(winBand, '#17b4b4', 1, 4),
        lineSeries(winLine, '#17b8b8', 1, 1, 4),
        lineSeries(fapMid, '#ff2a2a', 1, 1, 5, { lineStyle: { type: [3, 2] } }),
        tickSeries([1e-6, 1e-4, 1e-2], 'y', 1, 1, 5.5),
        tickSeries(midXMinor, 'x', 1e-3, 1, 3),
        // panel 3
        lineSeries(q1, '#238b23', 2, 1, 3, { smooth: 0.3 }),
        lineSeries(q2, '#c21fc2', 2, 1, 3, { smooth: 0.3 }),
        lineSeries(q3, '#bfbf2a', 2, 1, 3, { smooth: 0.3 }),
        lineSeries(q4, '#1f1fff', 2, 1, 4, { smooth: 0.3 }),
        lineSeries(fapBot, '#ff2a2a', 2, 1, 5, { lineStyle: { type: [3, 2] } }),
        tickSeries(botYMinor, 'y', 2.5, 2, 3),
        tickSeries(botXMinor, 'x', 1e-3, 2, 3),
      ],
    };
    chart.setOption(option);
    return () => chart.dispose();
  }, []);
  return <div ref={ref} style={{ width: 591, height: 725 }} />;
}
